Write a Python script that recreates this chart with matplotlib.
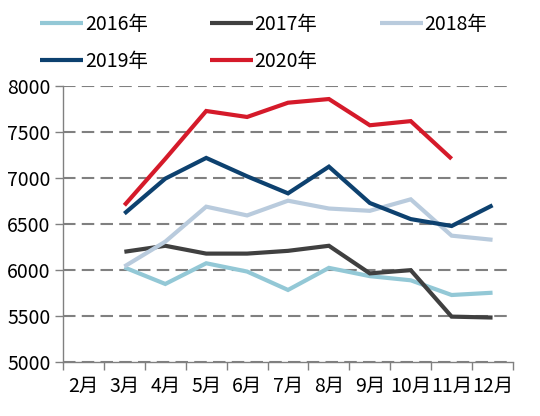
import matplotlib
matplotlib.use('Agg')
import matplotlib.pyplot as plt
from matplotlib.ticker import FixedLocator

plt.rcParams['font.family'] = ['Noto Sans CJK SC', 'DejaVu Sans']

months = ['2月', '3月', '4月', '5月', '6月', '7月', '8月', '9月', '10月', '11月', '12月']
# 2月 has no data, series start at 3月
y2016 = [None, 6025, 5845, 6070, 5980, 5780, 6020, 5930, 5885, 5725, 5750]
y2017 = [None, 6195, 6260, 6175, 6175, 6205, 6260, 5960, 5995, 5490, 5480]
y2018 = [None, 6035, 6305, 6685, 6590, 6750, 6665, 6640, 6765, 6370, 6325]
y2019 = [None, 6610, 6990, 7215, 7015, 6830, 7120, 6725, 6550, 6475, 6700]
y2020 = [None, 6700, 7205, 7725, 7660, 7815, 7855, 7570, 7615, 7205, None]

series = [
    ('2016年', y2016, '#93C8D6'),
    ('2017年', y2017, '#404040'),
    ('2018年', y2018, '#B9CBDD'),
    ('2019年', y2019, '#0D416F'),
    ('2020年', y2020, '#D51A2A'),
]

fig = plt.figure(figsize=(5.4, 4.16), dpi=100)
ax = fig.add_axes([0.1167, 0.1305, 0.8333, 0.6635])

x = list(range(len(months)))
lines = {}
for name, vals, color in series:
    pts = [(i, v) for i, v in zip(x, vals) if v is not None]
    ln, = ax.plot([p[0] for p in pts], [p[1] for p in pts], color=color, lw=3, label=name,
                  solid_joinstyle='miter', solid_capstyle='butt')
    lines[name] = ln

ax.set_xlim(-0.5, len(months) - 0.5)
ax.set_ylim(5000, 8000)
ax.set_yticks(range(5000, 8001, 500))
ax.yaxis.grid(True, color='#808080', lw=1.5, dashes=(6, 3))
ax.set_axisbelow(True)

ax.set_xticks(x)
ax.set_xticklabels(months)
ax.xaxis.set_minor_locator(FixedLocator([i - 0.5 for i in range(len(months) + 1)]))
ax.tick_params(axis='x', which='major', length=0, pad=10, labelsize=14, colors='black')
ax.tick_params(axis='x', which='minor', length=6, width=1, color='#808080', direction='out')
ax.tick_params(axis='y', length=6, width=1, color='#808080', labelsize=14, pad=3)

for s in ['top', 'right']:
    ax.spines[s].set_visible(False)
for s in ['left', 'bottom']:
    ax.spines[s].set_color('#808080')
    ax.spines[s].set_linewidth(1)

# legend fills by column, so reorder to read row by row
order = ['2016年', '2019年', '2017年', '2020年', '2018年']
fig.legend([lines[n] for n in order], order, loc='upper left',
           bbox_to_anchor=(40 / 540, 1 - 14 / 416), ncol=3, frameon=False,
           fontsize=14, handlelength=2.2, handletextpad=0.1, columnspacing=3.2,
           labelspacing=0.8, borderpad=0, borderaxespad=0)

fig.savefig('out.png', dpi=100)
